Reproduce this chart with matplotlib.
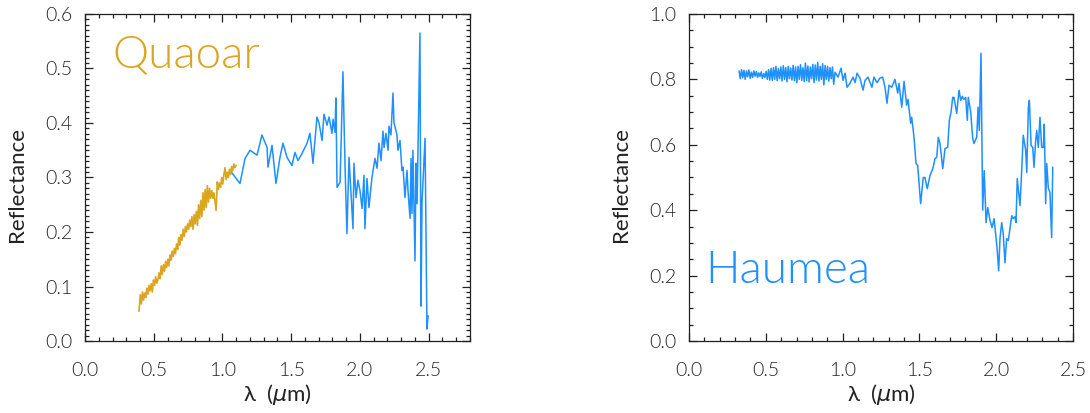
import matplotlib
matplotlib.use("Agg")
import matplotlib.pyplot as plt
from matplotlib.ticker import MultipleLocator, FormatStrFormatter

# ---------------- data ----------------
# Quaoar, visible (orange) part
quaoar_vis_x = [0.393, 0.402, 0.410, 0.418, 0.426, 0.434, 0.442, 0.450, 0.458, 0.466,
                0.474, 0.482, 0.490, 0.498, 0.506, 0.514, 0.522, 0.530, 0.538, 0.546,
                0.554, 0.562, 0.570, 0.578, 0.586, 0.594, 0.602, 0.610, 0.618, 0.626,
                0.634, 0.642, 0.650, 0.658, 0.666, 0.674, 0.682, 0.690, 0.698, 0.706,
                0.714, 0.722, 0.730, 0.738, 0.746, 0.754, 0.762, 0.770, 0.778, 0.786,
                0.794, 0.802, 0.810, 0.818, 0.826, 0.834, 0.842, 0.850, 0.858, 0.866,
                0.874, 0.882, 0.890, 0.898, 0.906, 0.914, 0.922, 0.930, 0.938, 0.946,
                0.954, 0.962, 0.970, 0.978, 0.986, 0.994, 1.002, 1.010, 1.018, 1.026,
                1.034, 1.042, 1.050, 1.058, 1.066, 1.074, 1.082, 1.090, 1.098]
quaoar_vis_y = [0.055, 0.085, 0.068, 0.090, 0.075, 0.088, 0.080, 0.097, 0.086, 0.102,
                0.092, 0.105, 0.090, 0.112, 0.102, 0.118, 0.106, 0.112, 0.125, 0.114,
                0.138, 0.122, 0.140, 0.128, 0.146, 0.135, 0.150, 0.138, 0.158, 0.148,
                0.165, 0.155, 0.170, 0.160, 0.178, 0.168, 0.190, 0.176, 0.195, 0.185,
                0.205, 0.192, 0.210, 0.200, 0.215, 0.205, 0.222, 0.210, 0.228, 0.205,
                0.232, 0.215, 0.238, 0.212, 0.250, 0.225, 0.258, 0.228, 0.272, 0.240,
                0.278, 0.245, 0.285, 0.255, 0.280, 0.262, 0.276, 0.262, 0.272, 0.255,
                0.240, 0.292, 0.278, 0.290, 0.282, 0.300, 0.288, 0.305, 0.318, 0.296,
                0.310, 0.300, 0.315, 0.305, 0.320, 0.312, 0.325, 0.318, 0.322]

# Quaoar, near-infrared (blue) part
quaoar_nir_x = [1.055, 1.127, 1.164, 1.200, 1.251, 1.287, 1.324, 1.331, 1.360, 1.389,
                1.418, 1.440, 1.469, 1.505, 1.527, 1.549, 1.578, 1.615, 1.636, 1.658,
                1.687, 1.702, 1.724, 1.738, 1.760, 1.775, 1.796, 1.804, 1.818, 1.825,
                1.833, 1.855, 1.876, 1.891, 1.905, 1.920, 1.949, 1.956, 1.971, 1.985,
                2.000, 2.015, 2.029, 2.036, 2.051, 2.065, 2.087, 2.109, 2.124, 2.138,
                2.153, 2.167, 2.175, 2.189, 2.204, 2.211, 2.225, 2.240, 2.247, 2.269,
                2.276, 2.291, 2.305, 2.313, 2.327, 2.342, 2.349, 2.364, 2.371, 2.378,
                2.385, 2.400, 2.407, 2.415, 2.436, 2.444, 2.451, 2.473, 2.487, 2.495]
quaoar_nir_y = [0.313, 0.289, 0.335, 0.350, 0.341, 0.378, 0.355, 0.319, 0.359, 0.289,
                0.337, 0.363, 0.337, 0.322, 0.346, 0.331, 0.344, 0.363, 0.381, 0.326,
                0.411, 0.400, 0.368, 0.416, 0.396, 0.411, 0.381, 0.407, 0.383, 0.446,
                0.282, 0.291, 0.494, 0.322, 0.197, 0.337, 0.206, 0.326, 0.263, 0.295,
                0.276, 0.243, 0.304, 0.206, 0.298, 0.245, 0.300, 0.335, 0.317, 0.363,
                0.331, 0.385, 0.355, 0.381, 0.350, 0.394, 0.378, 0.455, 0.401, 0.378,
                0.350, 0.368, 0.313, 0.319, 0.263, 0.313, 0.276, 0.225, 0.335, 0.234,
                0.350, 0.147, 0.326, 0.252, 0.565, 0.064, 0.254, 0.372, 0.022, 0.046]

# Haumea
haumea_x = [0.326, 0.334, 0.342, 0.350, 0.358, 0.366, 0.374, 0.382, 0.390, 0.398,
            0.406, 0.414, 0.422, 0.430, 0.438, 0.446, 0.454, 0.462, 0.470, 0.478,
            0.486, 0.494, 0.502, 0.510, 0.518, 0.526, 0.534, 0.542, 0.550, 0.558,
            0.566, 0.574, 0.582, 0.590, 0.598, 0.606, 0.614, 0.622, 0.630, 0.638,
            0.646, 0.654, 0.662, 0.670, 0.678, 0.686, 0.694, 0.702, 0.710, 0.718,
            0.726, 0.734, 0.742, 0.750, 0.758, 0.766, 0.774, 0.782, 0.790, 0.798,
            0.806, 0.814, 0.822, 0.830, 0.838, 0.846, 0.854, 0.862, 0.870, 0.878,
            0.886, 0.894, 0.902, 0.910, 0.918, 0.926, 0.934, 0.942,
            0.951, 0.970, 0.990, 1.003, 1.016, 1.029, 1.048, 1.068, 1.081, 1.094,
            1.113, 1.133, 1.146, 1.165, 1.191, 1.204, 1.224, 1.243, 1.261, 1.276,
            1.289, 1.302, 1.320, 1.341, 1.359, 1.367, 1.385, 1.400, 1.417, 1.426,
            1.443, 1.450, 1.465, 1.478, 1.489, 1.508, 1.525, 1.536, 1.551, 1.569,
            1.587, 1.602, 1.613, 1.623, 1.634, 1.652, 1.667, 1.684, 1.695, 1.706,
            1.717, 1.725, 1.743, 1.758, 1.769, 1.779, 1.790, 1.801, 1.812, 1.818,
            1.834, 1.847, 1.855, 1.873, 1.882, 1.890, 1.901, 1.912, 1.922, 1.934,
            1.945, 1.960, 1.973, 1.986, 1.999, 2.007, 2.016, 2.025, 2.036, 2.046,
            2.057, 2.068, 2.079, 2.090, 2.101, 2.111, 2.122, 2.129, 2.137, 2.155,
            2.166, 2.176, 2.192, 2.199, 2.209, 2.216, 2.227, 2.238, 2.246, 2.257,
            2.264, 2.274, 2.285, 2.296, 2.307, 2.313, 2.322, 2.329, 2.339, 2.350,
            2.361, 2.368]
haumea_y = [0.825, 0.802, 0.830, 0.805, 0.828, 0.800, 0.826, 0.808, 0.829, 0.803,
            0.822, 0.806, 0.826, 0.810, 0.824, 0.806, 0.820, 0.809, 0.823, 0.803,
            0.818, 0.806, 0.825, 0.800, 0.830, 0.798, 0.834, 0.797, 0.836, 0.800,
            0.840, 0.796, 0.833, 0.802, 0.838, 0.795, 0.842, 0.800, 0.836, 0.793,
            0.840, 0.802, 0.835, 0.798, 0.843, 0.796, 0.838, 0.790, 0.840, 0.800,
            0.845, 0.797, 0.836, 0.793, 0.850, 0.796, 0.841, 0.792, 0.838, 0.802,
            0.846, 0.790, 0.844, 0.798, 0.852, 0.795, 0.840, 0.800, 0.848, 0.783,
            0.842, 0.800, 0.840, 0.795, 0.836, 0.802, 0.838, 0.785,
            0.822, 0.807, 0.834, 0.797, 0.819, 0.776, 0.788, 0.807, 0.790, 0.819,
            0.804, 0.767, 0.797, 0.807, 0.776, 0.807, 0.790, 0.804, 0.807, 0.776,
            0.727, 0.782, 0.776, 0.800, 0.758, 0.788, 0.715, 0.794, 0.721, 0.739,
            0.666, 0.684, 0.623, 0.543, 0.537, 0.420, 0.500, 0.500, 0.466, 0.506,
            0.527, 0.558, 0.562, 0.623, 0.604, 0.527, 0.589, 0.592, 0.675, 0.700,
            0.745, 0.745, 0.696, 0.767, 0.736, 0.748, 0.739, 0.745, 0.675, 0.745,
            0.700, 0.620, 0.604, 0.623, 0.715, 0.644, 0.880, 0.400, 0.521, 0.362,
            0.408, 0.368, 0.347, 0.374, 0.316, 0.276, 0.215, 0.316, 0.362, 0.328,
            0.239, 0.313, 0.307, 0.344, 0.383, 0.374, 0.380, 0.362, 0.497, 0.414,
            0.521, 0.629, 0.583, 0.515, 0.712, 0.736, 0.598, 0.592, 0.531, 0.613,
            0.644, 0.592, 0.684, 0.592, 0.592, 0.663, 0.420, 0.543, 0.469, 0.454,
            0.316, 0.531]

left_xticks = [0.0, 0.5, 1.0, 1.5, 2.0, 2.5]
left_yticks = [0.0, 0.1, 0.2, 0.3, 0.4, 0.5, 0.6]
right_xticks = [0.0, 0.5, 1.0, 1.5, 2.0, 2.5]
right_yticks = [0.0, 0.2, 0.4, 0.6, 0.8, 1.0]

BLUE = "#1E90FF"
GOLD = "#DAA520"
TXT = "#222222"

plt.rcParams["font.family"] = ["Lato", "DejaVu Sans"]
plt.rcParams["font.weight"] = 300
plt.rcParams["mathtext.fontset"] = "dejavusans"

fig = plt.figure(figsize=(10.9, 4.13), dpi=100)
ax1 = fig.add_axes([85 / 1090, 72 / 413, 385 / 1090, 327 / 413])
ax2 = fig.add_axes([689 / 1090, 72 / 413, 384 / 1090, 327 / 413])


def style(ax, xt, yt, xmax, ymax, xminor, yminor):
    ax.set_xlim(0, xmax)
    ax.set_ylim(0, ymax)
    ax.set_xticks(xt)
    ax.set_yticks(yt)
    ax.xaxis.set_minor_locator(MultipleLocator(xminor))
    ax.yaxis.set_minor_locator(MultipleLocator(yminor))
    ax.xaxis.set_major_formatter(FormatStrFormatter("%.1f"))
    ax.yaxis.set_major_formatter(FormatStrFormatter("%.1f"))
    ax.tick_params(which="both", direction="in", top=True, right=True,
                   color="#202020", width=0.9, labelcolor=TXT, labelsize=14)
    ax.tick_params(which="major", length=6)
    ax.tick_params(which="minor", length=3)
    ax.tick_params(axis="x", which="major", pad=15)
    ax.tick_params(axis="y", which="major", pad=9)
    for s in ax.spines.values():
        s.set_linewidth(0.9)
        s.set_color("#202020")
    ax.set_xlabel("λ  ($\\mu$m)", fontsize=16, color=TXT, labelpad=2)
    ax.set_ylabel("Reflectance", fontsize=16, color=TXT)
    for lab in ax.get_xticklabels() + ax.get_yticklabels():
        lab.set_fontweight(300)


style(ax1, left_xticks, left_yticks, 2.8, 0.6, 0.1, 0.01)
style(ax2, right_xticks, right_yticks, 2.5, 1.0, 0.1, 0.05)
ax1.yaxis.set_label_coords(-0.15, 0.48)
ax2.yaxis.set_label_coords(-0.15, 0.48)

ax1.plot(quaoar_nir_x, quaoar_nir_y, color=BLUE, lw=1.1)
ax1.plot(quaoar_vis_x, quaoar_vis_y, color=GOLD, lw=1.2)
ax2.plot(haumea_x, haumea_y, color=BLUE, lw=1.1)

ax1.text(0.07, 0.875, "Quaoar", transform=ax1.transAxes, color=GOLD,
         fontsize=33, fontweight=300, va="center", ha="left")
ax2.text(0.042, 0.215, "Haumea", transform=ax2.transAxes, color=BLUE,
         fontsize=33, fontweight=300, va="center", ha="left")

fig.savefig("out.png", dpi=100)
